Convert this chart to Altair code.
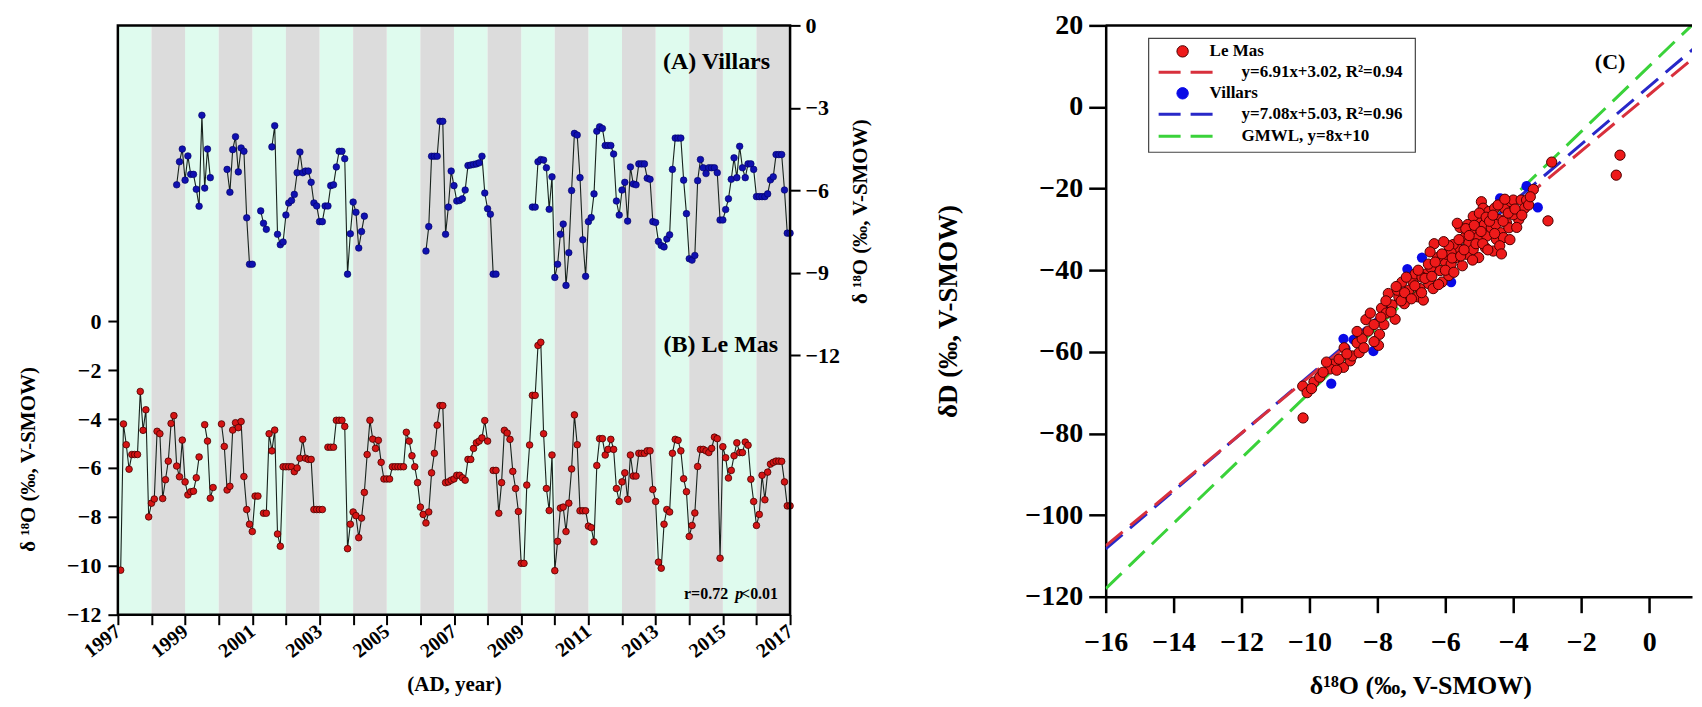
import altair as alt
import pandas as pd

N = None
FONT = "Liberation Serif"

# ---------------- data ----------------
years = list(range(1997, 2017))

# Le Mas monthly d18O (Jan 1997 .. Dec 2016), None = missing
lemas_d18o = [
    -10.18, -4.2, -5.05, -6.05, -5.45, -5.45, -5.45, -2.87, -4.46, -3.62, -8.0, -7.44,   # 1997
    -7.27, -4.5, -4.6, -7.25, -6.48, -5.72, -4.18, -3.86, -5.92, -6.36, -4.86, -6.57,    # 1998
    -7.1, -6.97, -6.95, -6.4, -5.55, N, -4.23, -4.9, -7.24, -6.8, N, N,                   # 1999
    -4.2, -5.12, -6.9, -6.75, -4.45, -4.15, -4.35, -4.1, -6.35, -7.7, -8.3, -8.6,        # 2000
    -7.15, -7.15, N, -7.85, -7.85, -4.6, -5.3, -4.45, -8.7, -9.2, -5.95, -5.95,          # 2001
    -5.95, -5.95, -6.15, -6.0, -5.6, -4.83, -5.6, -5.65, -5.65, -7.7, -7.7, -7.7,        # 2002
    -7.7, N, -5.15, -5.15, -5.15, -4.05, -4.05, -4.05, -4.3, -9.3, -8.3, -7.8,           # 2003
    -7.95, -8.85, -8.05, -7.0, -5.45, -4.05, -4.82, -5.2, -4.87, -5.77, -6.45, -6.45,    # 2004
    -6.45, -5.95, -5.95, -5.95, -5.95, -5.95, -4.54, -4.9, -5.5, -5.95, -6.6, -7.6,      # 2005
    -7.9, -8.25, -7.8, -6.2, -5.4, -4.25, -3.45, -3.45, -6.6, -6.57, -6.5, -6.45,        # 2006
    -6.3, -6.3, -6.4, -6.5, -5.65, -5.65, -5.2, -4.97, -4.9, -4.77, -4.06, -4.9,         # 2007
    N, -6.1, -6.1, -7.85, -6.6, -4.46, -4.57, -4.83, -6.14, -6.84, -7.78, -9.9,          # 2008
    -9.9, -6.7, -5.06, -3.03, -3.03, -0.99, -0.86, -4.6, -6.84, -7.74, -5.47, -10.2,     # 2009
    -9.0, -7.64, -7.6, -8.6, -7.44, -6.04, -3.83, -5.05, -7.75, -7.75, -7.75, -8.38,     # 2010
    -8.44, -9.02, -5.9, -4.8, -4.8, -5.47, -5.24, -4.83, -5.24, -6.84, -7.37, -6.57,     # 2011
    -6.2, -7.28, -5.47, -6.33, -6.33, -5.4, -5.4, -5.4, -5.3, -5.3, -6.88, -7.37,        # 2012
    -9.85, -10.1, -8.3, -7.7, -7.8, -5.4, -4.83, -4.87, -5.3, -6.44, -6.97, -8.8,        # 2013
    -8.35, -7.84, -5.94, -5.24, -5.24, -5.3, -5.37, -5.2, -4.74, -4.8, -9.69, -5.13,     # 2014
    -5.58, -6.41, -6.1, -5.5, -4.97, -5.37, -5.37, -4.94, -5.07, -6.46, -7.37, -8.35,    # 2015
    -7.9, -6.3, -7.3, -6.17, -5.84, -5.77, -5.72, -5.72, -5.73, -6.57, -7.55, -7.55,     # 2016
]

# Villars monthly d18O (Jan 1997 .. Dec 2016), None = missing
villars_d18o = [
    N, N, N, N, N, N, N, N, N, N, N, N,                                                  # 1997
    N, N, N, N, N, N, N, N, -5.8, -4.96, -4.5, -5.63,                                    # 1998
    -4.75, -5.42, -5.42, -5.96, -6.58, -3.27, -5.92, -4.5, -5.54, N, N, N,               # 1999
    N, N, -5.24, -6.07, -4.52, -4.05, -5.33, -4.46, -4.58, -7.0, -8.69, -8.69,           # 2000
    N, N, -6.75, -7.2, -7.42, N, -4.42, -3.65, -7.6, -7.98, -7.88, -6.9,                 # 2001
    -6.46, -6.37, -6.15, -5.36, -4.61, -5.36, -5.3, -5.3, -5.71, -6.46, -6.57, -7.14,    # 2002
    -7.14, -6.57, -6.57, -5.83, -5.8, -5.15, -4.58, -4.58, -4.85, -9.05, -7.58, -6.43,   # 2003
    -6.8, -8.1, -7.5, -6.94, N, N, N, N, N, N, N, N,                                     # 2004
    N, N, N, N, N, N, N, N, N, N, N, N,                                                  # 2005
    N, -8.21, -7.32, -4.76, -4.76, -4.76, -3.49, -3.49, -7.6, -6.61, -5.3, -5.83,        # 2006
    -6.39, -6.37, -6.31, -5.99, -5.1, -5.08, -5.06, -5.04, -5.0, -4.76, -6.1, -6.67,     # 2007
    -6.87, -9.05, -9.05, N, N, N, N, N, N, N, N, N,                                      # 2008
    N, N, N, -6.61, -6.61, -4.96, -4.88, -4.9, -5.18, -6.69, -5.51, -9.17,               # 2009
    -8.69, -7.6, -7.23, -9.46, -8.27, -6.01, -3.93, -3.99, -5.54, -7.8, -9.13, -7.14,    # 2010
    -6.99, -6.13, -3.85, -3.69, -3.75, -4.37, -4.37, -4.37, -4.68, -6.39, -6.9, -5.99,   # 2011
    -5.71, -7.12, -5.15, -5.77, -5.8, -5.04, -5.04, -5.04, -5.56, -5.6, -7.14, -7.17,    # 2012
    -7.86, -8.01, -8.06, -7.77, -7.62, -5.24, -4.1, -4.1, -4.1, -5.63, -6.85, -8.49,     # 2013
    -8.54, -8.37, -5.65, -4.88, -5.18, -5.39, -5.18, -5.18, -5.18, -5.36, -7.08, -7.08,  # 2014
    -6.7, -6.31, -5.6, -4.82, -5.54, -4.4, -5.18, -5.54, -5.04, -5.04, -5.24, -6.23,     # 2015
    -6.23, -6.23, -6.23, -6.13, -5.62, -5.51, -4.7, -4.7, -4.7, -5.99, -7.56, -7.56,     # 2016
]

# scatter (C): d18O vs dD
lemas_sx = [-10.19, -10.2, -10.07, -9.87, -9.7, -9.3, -9.0, -8.98, -8.8, -8.74, -8.6, -8.45,
            -8.34, -8.27, -7.97, -7.94, -7.88, -7.81, -7.68, -7.57, -7.48, -7.37, -7.28, -7.21,
            -7.08, -6.95, -6.82, -6.75, -6.65, -6.56, -6.49, -6.33, -6.36, -6.16, -6.1, -6.03,
            -5.9, -5.83, -5.7, -5.63, -5.57, -5.5, -5.44, -5.37, -5.31, -5.24, -5.18, -5.07,
            -5.05, -5.02, -4.94, -4.89, -4.85, -4.78, -4.72, -4.65, -4.59, -4.55, -4.5, -4.42,
            -4.37, -4.26, -4.2, -4.13, -4.07, -4.0, -3.84, -3.77, -3.61, -3.41, -2.98, -2.87,
            -0.97, -0.86, -6.89, -6.69, -6.43, -6.23, -5.96, -5.77, -5.34, -5.18, -4.82, -4.52,
            -4.29, -4.0, -3.67, -5.83, -7.41, -7.15, -7.74, -8.1, -8.21, -8.54, -9.13, -9.39, -9.94,
            -8.1, -7.9, -7.75, -7.6, -7.45, -7.3, -7.2, -7.0, -6.9, -6.8, -6.7, -6.6,
            -6.5, -6.4, -6.3, -6.2, -6.1, -6.0, -5.9, -5.8, -5.75, -5.6, -5.55, -5.45,
            -5.4, -5.3, -5.2, -5.15, -5.1, -5.0, -4.95, -4.9, -4.8, -4.75, -4.7, -4.6,
            -4.55, -4.45, -4.4, -4.3, -4.25, -4.15, -4.1, -3.95, -3.9, -3.75, -3.55, -3.5,
            -8.4, -8.6, -8.9, -9.2, -9.5, -9.6, -6.45, -6.05, -5.65, -4.35]
lemas_sy = [-76.2, -68.4, -70.0, -67.4, -66.2, -63.0, -63.8, -59.0, -62.2, -61.0, -57.8, -56.8,
            -52.1, -54.9, -58.4, -55.7, -49.3, -53.3, -45.7, -48.5, -52.0, -46.5, -42.9, -48.2,
            -44.9, -42.9, -46.5, -44.5, -47.3, -40.9, -43.3, -33.5, -44.5, -40.1, -42.9, -37.7,
            -41.3, -38.5, -36.9, -34.5, -29.5, -38.9, -32.0, -36.1, -33.3, -30.8, -34.9, -27.2,
            -32.0, -36.9, -23.2, -24.8, -28.8, -31.6, -25.6, -29.6, -35.3, -24.8, -32.4, -27.6,
            -30.8, -24.8, -28.4, -29.6, -23.2, -22.8, -27.6, -22.8, -22.8, -20.2, -27.9, -13.5,
            -16.7, -11.8, -40.9, -41.7, -39.3, -36.9, -36.1, -33.7, -28.8, -26.8, -34.5, -28.8,
            -32.0, -26.4, -24.8, -35.7, -44.9, -41.7, -50.5, -53.3, -50.5, -60.2, -61.8, -64.2, -69.0,
            -57.5, -51.5, -47.5, -50.2, -44.0, -47.5, -45.5, -47.0, -43.8, -40.0, -45.5, -42.0,
            -38.5, -41.5, -38.0, -43.5, -36.0, -40.0, -34.0, -37.0, -40.5, -32.5, -36.5, -35.0,
            -29.8, -31.5, -37.5, -29.0, -33.5, -26.0, -30.5, -33.5, -27.0, -35.0, -28.0, -26.5,
            -31.0, -24.0, -34.0, -28.0, -22.6, -26.0, -32.5, -25.0, -29.5, -26.5, -24.0, -22.0,
            -59.0, -55.0, -60.5, -64.5, -62.5, -65.0, -35.5, -33.0, -28.5, -36.0]
villars_sx = [-9.36, -9.0, -8.94, -8.12, -7.12, -6.69, -5.83, -5.8, -4.39, -3.61, -3.28,
              -7.6, -6.3, -5.2, -8.7, -4.9]
villars_sy = [-67.8, -56.8, -59.2, -59.8, -39.7, -36.9, -42.9, -34.5, -22.4, -19.4, -24.6,
              -49.0, -40.0, -32.0, -57.0, -28.0]

fit_names = ["Le Mas", "Villars", "GMWL"]
fit_slope = [6.91, 7.08, 8.0]
fit_icpt = [3.02, 5.03, 10.0]
legend_texts = ["Le Mas", "y=6.91x+3.02, R²=0.94", "Villars", "y=7.08x+5.03, R²=0.96", "GMWL, y=8x+10"]

# ---------------- styles ----------------
MINT, GRAY = "#dffbee", "#dcdcdc"
RED, DARKRED = "#d41414", "#4a0000"
BLUE = "#1010b0"
SRED, SBLUE = "#ee1a1a", "#0a0ae6"
FIT_COLORS = ["#d8303c", "#2828c8", "#3ad23a"]
LINE = "#17221c"

months = [y + k / 12 for y in years for k in range(1, 13)]


def series(vals):
    df = pd.DataFrame({"t": months, "v": vals})
    df["seg"] = df["v"].isna().cumsum()
    return df.dropna().reset_index(drop=True)


one = pd.DataFrame({"k": [0]})


def label(txt, x, y, size, align="right", style="normal", weight="bold"):
    return alt.Chart(one).mark_text(
        text=txt, font=FONT, fontSize=size, fontWeight=weight, fontStyle=style,
        align=align, baseline="middle", color="black"
    ).encode(x=alt.value(x), y=alt.value(y))


# ---------------- left panel (A, B) ----------------
W1, H1 = 673, 590
xs_year = alt.Scale(domain=[1997, 2017], nice=False, zero=False)
x_axis = alt.Axis(values=list(range(1997, 2018)), format="d",
                  labelExpr="datum.value % 2 == 1 ? datum.label : ''",
                  labelAngle=-38, labelAlign="right", labelBaseline="middle", labelFlush=False,
                  labelFontSize=20, labelPadding=4, tickSize=10, tickWidth=2, domain=False,
                  title="(AD, year)", titleFontSize=21, titlePadding=12)


def xe(field):
    return alt.X(field, scale=xs_year, axis=x_axis)


stripes_df = pd.DataFrame({"start": years, "end": [y + 1 for y in years],
                           "band": ["a" if i % 2 == 0 else "b" for i in range(len(years))]})
stripe_layers = [
    alt.Chart(stripes_df).mark_rect(fill=col).encode(
        x=xe("start:Q"), x2="end:Q", y=alt.value(0), y2=alt.value(H1)
    ).transform_filter(alt.datum.band == band)
    for band, col in (("a", MINT), ("b", GRAY))
]

lm = series(lemas_d18o)
lm_scale = alt.Scale(domain=[-12, 12.1], nice=False, zero=False)
lm_axis = alt.Axis(orient="left", values=list(range(-12, 1, 2)), title="δ ¹⁸O (‰, V-SMOW)",
                   titleY=434, labelFontSize=22, labelPadding=7, tickSize=10, tickWidth=2,
                   domain=False, titlePadding=28, titleFontSize=21, labelFlush=False)
lm_line = alt.Chart(lm).mark_line(color=LINE, strokeWidth=1.1).encode(
    x=xe("t:Q"), y=alt.Y("v:Q", scale=lm_scale, axis=lm_axis), detail="seg:N")
lm_pts = alt.Chart(lm).mark_circle(size=44, fill=RED, stroke=DARKRED, strokeWidth=0.8, opacity=1).encode(
    x=xe("t:Q"), y=alt.Y("v:Q", scale=lm_scale, axis=lm_axis))
lemas_layer = alt.layer(lm_line, lm_pts)

vl = series(villars_d18o)
vl_scale = alt.Scale(domain=[-21.44, 0], nice=False, zero=False)
vl_axis = alt.Axis(orient="right", values=[0, -3, -6, -9, -12], title="δ ¹⁸O (‰, V-SMOW)",
                   titleY=186, titleAngle=270, titleBaseline="top",
                   labelFontSize=22, labelPadding=5, tickSize=10, tickWidth=2,
                   domain=False, titlePadding=10, titleFontSize=21, labelFlush=False)
vl_line = alt.Chart(vl).mark_line(color=LINE, strokeWidth=1.1).encode(
    x=xe("t:Q"), y=alt.Y("v:Q", scale=vl_scale, axis=vl_axis), detail="seg:N")
vl_pts = alt.Chart(vl).mark_circle(size=44, fill=BLUE, stroke="#000060", strokeWidth=0.6, opacity=1).encode(
    x=xe("t:Q"), y=alt.Y("v:Q", scale=vl_scale, axis=vl_axis))
villars_layer = alt.layer(vl_line, vl_pts)

border = alt.Chart(one).mark_rect(fillOpacity=0, stroke="black", strokeWidth=2.5).encode(
    x=alt.value(0), x2=alt.value(W1), y=alt.value(0), y2=alt.value(H1))

left = alt.layer(
    *stripe_layers, lemas_layer, villars_layer, border,
    label("(A) Villars", 653, 37, 24),
    label("(B) Le Mas", 661, 320, 24),
    label("<0.01", 661, 569, 16),
    label("p", 626, 569, 16, style="italic"),
    label("r=0.72", 611, 569, 16),
).resolve_scale(y="independent").properties(width=W1, height=H1)

# ---------------- right panel (C) ----------------
W2, H2 = 587, 572
xs2 = alt.Scale(domain=[-16, 1.26], nice=False, zero=False)
ys2 = alt.Scale(domain=[-120, 20], nice=False, zero=False)
x2_axis = alt.Axis(values=list(range(-16, 1, 2)), title="δ¹⁸O (‰, V-SMOW)", labelFontSize=28,
                   titleFontSize=26, tickSize=16, tickWidth=2.5, domainWidth=2.5, labelPadding=16,
                   titlePadding=16, titleX=315, grid=False, labelFlush=False)
y2_axis = alt.Axis(values=list(range(-120, 21, 20)), title="δD (‰, V-SMOW)", labelFontSize=28,
                   titleFontSize=27, tickSize=17, tickWidth=2.5, domainWidth=2.5, labelPadding=6,
                   titlePadding=62, grid=False, labelFlush=False)


def x2e():
    return alt.X("x:Q", scale=xs2, axis=x2_axis)


def y2e():
    return alt.Y("y:Q", scale=ys2, axis=y2_axis)


fit_rows = []
for n, m, b in zip(fit_names, fit_slope, fit_icpt):
    for xv in (-16.0, (20 - b) / m):
        fit_rows.append({"fit": n, "x": xv, "y": m * xv + b})
fit_df = pd.DataFrame(fit_rows)
fit_layers = [
    alt.Chart(fit_df).mark_line(strokeDash=[22, 10], strokeWidth=3, clip=True, color=col).encode(
        x=x2e(), y=y2e()).transform_filter(alt.datum.fit == name)
    for name, col in zip(["GMWL", "Villars", "Le Mas"], [FIT_COLORS[2], FIT_COLORS[1], FIT_COLORS[0]])
]

sc_vl = pd.DataFrame({"x": villars_sx, "y": villars_sy})
sc_lm = pd.DataFrame({"x": lemas_sx, "y": lemas_sy})
vl_sc = alt.Chart(sc_vl).mark_circle(size=105, fill=SBLUE, opacity=1).encode(x=x2e(), y=y2e())
lm_sc = alt.Chart(sc_lm).mark_circle(size=105, fill=SRED, stroke=DARKRED, strokeWidth=1, opacity=1).encode(
    x=x2e(), y=y2e())

top_rule = alt.Chart(one).mark_rule(color="black", strokeWidth=2.5).encode(
    x=alt.value(0), x2=alt.value(W2), y=alt.value(0))

leg_box = alt.Chart(one).mark_rect(fill="white", stroke="#444444", strokeWidth=1.2).encode(
    x=alt.value(43), x2=alt.value(310), y=alt.value(13), y2=alt.value(127))


def leg_dot(y, fill, stroke):
    return alt.Chart(one).mark_circle(size=130, fill=fill, stroke=stroke, strokeWidth=1, opacity=1).encode(
        x=alt.value(77), y=alt.value(y))


def leg_dash(y, col):
    return alt.Chart(one).mark_rule(strokeDash=[22, 10], strokeWidth=3, color=col).encode(
        x=alt.value(53), x2=alt.value(113), y=alt.value(y))


right = alt.layer(
    *fit_layers, vl_sc, lm_sc, top_rule, leg_box,
    leg_dot(26, SRED, DARKRED), label(legend_texts[0], 104, 26, 17, align="left"),
    leg_dash(47, FIT_COLORS[0]), label(legend_texts[1], 136, 47, 17, align="left"),
    leg_dot(68, SBLUE, SBLUE), label(legend_texts[2], 104, 68, 17, align="left"),
    leg_dash(89, FIT_COLORS[1]), label(legend_texts[3], 136, 89, 17, align="left"),
    leg_dash(111, FIT_COLORS[2]), label(legend_texts[4], 136, 111, 17, align="left"),
    label("(C)", 505, 37, 22, align="center"),
).properties(width=W2, height=H2)

chart = alt.hconcat(left, right, spacing=64).properties(
    padding={"left": 9, "top": 3, "right": 0, "bottom": 0}
).configure_view(stroke=None).configure_axis(
    labelFont=FONT, titleFont=FONT, labelFontWeight="bold", titleFontWeight="bold",
    labelColor="black", titleColor="black", tickColor="black", domainColor="black", grid=False
).configure_text(font=FONT)

chart.save("out.html", embed_options={"renderer": "svg", "actions": False})
